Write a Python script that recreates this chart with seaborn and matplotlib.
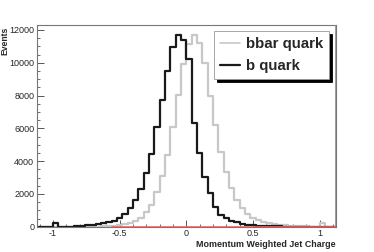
import matplotlib
matplotlib.use("Agg")
import matplotlib.pyplot as plt
import pandas as pd
import seaborn as sns
from matplotlib.ticker import MultipleLocator, FuncFormatter

# Bin layout: 56 bins of 0.04 from -1.12 to 1.12.
bin_lo = -1.12
bin_width = 0.04
n_bins = 56

# Events per bin (left to right).
b_quark = [
    0, 0, 0, 200, 0, 3, 10, 25, 45, 75,
    110, 150, 200, 270, 370, 510, 775, 1120, 1630, 2280,
    3260, 4440, 6070, 7700, 9500, 10940, 11670, 11400,
    10230, 6320, 4485, 3055, 2040, 1220, 715, 550, 367, 270,
    180, 130, 95, 70, 50, 35, 25, 15, 10, 6,
    3, 0, 0, 0, 0, 0, 0, 0,
]
bbar_quark = [
    0, 0, 0, 0, 0, 0, 0, 0, 0, 0,
    5, 10, 20, 35, 60, 100, 160, 240, 370, 560,
    870, 1350, 2100, 3100, 4400, 6070, 8050, 9950,
    11150, 11700, 11200, 9980, 7940, 6210, 4580, 3360, 2350, 1630,
    1120, 760, 550, 400, 290, 220, 165, 120, 85, 60,
    40, 25, 15, 8, 5, 200, 0, 0,
]

# Red empty histogram outline seen along the bottom and right edge.
red_x = [-0.56, 1.12, 1.12]
red_y = [0, 0, 13000]

edges = [round(bin_lo + bin_width * i, 2) for i in range(n_bins + 1)]
centers = [round(e + bin_width / 2, 2) for e in edges[:-1]]
df = pd.DataFrame({"charge": centers, "b": b_quark, "bbar": bbar_quark})

sns.set_style("white")
plt.rcParams["font.family"] = ["Liberation Sans", "DejaVu Sans"]

fig = plt.figure(figsize=(3.74, 2.52), dpi=100)
ax = fig.add_axes([37 / 374, 1 - 226.7 / 252, 298.7 / 374, 201.7 / 252])

sns.histplot(data=df, x="charge", weights="bbar", bins=edges, element="step",
             fill=False, color="#c8c8c8", linewidth=1.6, ax=ax)
sns.histplot(data=df, x="charge", weights="b", bins=edges, element="step",
             fill=False, color="#1a1a1a", linewidth=1.6, ax=ax)
ax.plot(red_x, red_y, color="#e46a6a", linewidth=1.2, zorder=5, clip_on=True)

ax.set_xlim(-1.12, 1.12)
ax.set_ylim(0, 12300)

ax.xaxis.set_major_locator(MultipleLocator(0.5))
ax.xaxis.set_minor_locator(MultipleLocator(0.1))
ax.yaxis.set_major_locator(MultipleLocator(2000))
ax.yaxis.set_minor_locator(MultipleLocator(500))
ax.xaxis.set_major_formatter(FuncFormatter(lambda v, p: "%g" % v))
ax.yaxis.set_major_formatter(FuncFormatter(lambda v, p: "%d" % v))
ax.tick_params(which="both", direction="in", bottom=True, left=True,
               top=False, right=False, labelsize=6.5, color="#555555", pad=2)
ax.tick_params(which="major", length=5, width=0.7)
ax.tick_params(which="minor", length=2.5, width=0.6)
for s in ax.spines.values():
    s.set_color("#777777")
    s.set_linewidth(0.8)

ax.set_xlabel("Momentum Weighted Jet Charge", fontsize=6.4, fontweight="bold",
              loc="right", labelpad=1)
ax.set_ylabel("Events", fontsize=6.2, fontweight="bold", loc="top")
ax.yaxis.set_label_coords(-0.092, 0.99)

handles = [plt.Line2D([], [], color="#c8c8c8", linewidth=1.2),
           plt.Line2D([], [], color="#1a1a1a", linewidth=1.6)]
leg = ax.legend(handles, ["bbar quark", "b quark"], loc="upper left",
                bbox_to_anchor=(0.593, 0.97),
                prop={"weight": "bold", "size": 10.8},
                frameon=True, fancybox=False, edgecolor="#999999",
                shadow={"color": "black", "alpha": 1.0},
                handlelength=1.3, handletextpad=0.4, borderpad=0.4,
                labelspacing=0.55, borderaxespad=0)
leg.get_frame().set_linewidth(0.6)

fig.savefig("out.png", dpi=100)
